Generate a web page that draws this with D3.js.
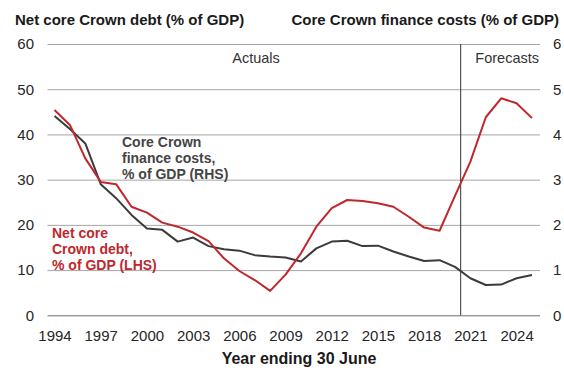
<!DOCTYPE html>
<html>
<head>
<meta charset="utf-8">
<script src="https://cdn.jsdelivr.net/npm/d3@7"></script>
<style>
    body { margin: 0; background: #fff; }
    svg text { font-family: "Liberation Sans", Arial, sans-serif; }
</style>
</head>
<body>
<svg id="chart" width="564" height="368"></svg>
<script>

// years ending 30 June
let years = d3.range(1994, 2026);

// net core Crown debt, % of GDP (LHS)
let debt = [45.4, 42.1, 34.7, 29.5, 29.0, 24.0, 22.7, 20.5, 19.6, 18.3,
            16.4, 12.6, 9.8, 7.8, 5.4, 9.0, 13.7, 19.6, 23.7, 25.5,
            25.3, 24.8, 24.0, 21.8, 19.4, 18.7, 26.4, 34.0, 43.8, 48.0,
            46.9, 43.6];

// core Crown finance costs, % of GDP (RHS)
let costs = [4.41, 4.12, 3.80, 2.90, 2.59, 2.22, 1.92, 1.89, 1.63, 1.72,
             1.53, 1.46, 1.43, 1.33, 1.30, 1.28, 1.19, 1.48, 1.63, 1.65,
             1.53, 1.54, 1.41, 1.30, 1.20, 1.22, 1.07, 0.82, 0.67, 0.68,
             0.82, 0.89];

let leftTicks = [0, 10, 20, 30, 40, 50, 60];
let rightTicks = [0, 1, 2, 3, 4, 5, 6];
let yearTicks = [1994, 1997, 2000, 2003, 2006, 2009, 2012, 2015, 2018, 2021, 2024];
let forecastStart = 2020.37;

let svg = d3.select("#chart");

let plot = {left: 47.5, right: 540, top: 44, bottom: 315.3};

let x = d3.scaleLinear()
    .domain([1994, 2025])
    .range([54.5, 532]);

let yL = d3.scaleLinear()
    .domain([0, 60])
    .range([plot.bottom, plot.top]);

let yR = d3.scaleLinear()
    .domain([0, 6])
    .range([plot.bottom, plot.top]);

// ****************************************
//             GRID + AXES
// ****************************************

let gridAxis = d3.axisLeft(yL)
    .tickValues(leftTicks)
    .tickSize(-(plot.right - plot.left))
    .tickFormat("");

svg.append("g")
    .attr("transform", `translate(${plot.left},0)`)
    .call(gridAxis)
    .call(g => g.select(".domain").remove())
    .call(g => g.selectAll("line")
        .attr("stroke", d => d === 0 ? "#6e6e6e" : "#a6a6a6")
        .attr("stroke-width", 1));

let leftAxis = svg.append("g")
    .attr("transform", `translate(34,0)`)
    .call(d3.axisLeft(yL).tickValues(leftTicks).tickSize(0).tickPadding(0));

let rightAxis = svg.append("g")
    .attr("transform", `translate(553,0)`)
    .call(d3.axisRight(yR).tickValues(rightTicks).tickFormat(d3.format("d")).tickSize(0).tickPadding(0));

let bottomAxis = svg.append("g")
    .attr("transform", `translate(0,330.5)`)
    .call(d3.axisBottom(x).tickValues(yearTicks).tickFormat(d3.format("d")).tickSize(0).tickPadding(0));

[leftAxis, rightAxis, bottomAxis].forEach(a => {
    a.select(".domain").remove();
    a.selectAll("text")
        .attr("fill", "#262626")
        .style("font-size", "15px");
});
bottomAxis.selectAll("text").attr("dy", "0.71em");

// forecast divider
svg.append("line")
    .attr("x1", x(forecastStart))
    .attr("x2", x(forecastStart))
    .attr("y1", plot.top)
    .attr("y2", plot.bottom)
    .attr("stroke", "#333")
    .attr("stroke-width", 1);

// ****************************************
//             LINES
// ****************************************

let debtLine = d3.line()
    .x((d, i) => x(years[i]))
    .y(d => yL(d));

let costLine = d3.line()
    .x((d, i) => x(years[i]))
    .y(d => yR(d));

svg.append("path")
    .datum(costs)
    .attr("fill", "none")
    .attr("stroke", "#3b3b3b")
    .attr("stroke-width", 2)
    .attr("stroke-linejoin", "round")
    .attr("d", costLine);

svg.append("path")
    .datum(debt)
    .attr("fill", "none")
    .attr("stroke", "#c0272d")
    .attr("stroke-width", 2)
    .attr("stroke-linejoin", "round")
    .attr("d", debtLine);

// ****************************************
//             TEXT
// ****************************************

svg.append("text")
    .attr("x", 15)
    .attr("y", 25)
    .attr("font-weight", "bold")
    .style("font-size", "15px")
    .attr("fill", "#1a1a1a")
    .text("Net core Crown debt (% of GDP)");

svg.append("text")
    .attr("x", 559)
    .attr("y", 25)
    .attr("text-anchor", "end")
    .attr("font-weight", "bold")
    .style("font-size", "15px")
    .attr("fill", "#1a1a1a")
    .text("Core Crown finance costs (% of GDP)");

svg.append("text")
    .attr("x", 299)
    .attr("y", 364)
    .attr("text-anchor", "middle")
    .attr("font-weight", "bold")
    .style("font-size", "16px")
    .attr("fill", "#1a1a1a")
    .text("Year ending 30 June");

svg.append("text")
    .attr("x", 256)
    .attr("y", 63)
    .attr("text-anchor", "middle")
    .style("font-size", "14.5px")
    .attr("fill", "#333")
    .text("Actuals");

svg.append("text")
    .attr("x", 539)
    .attr("y", 63)
    .attr("text-anchor", "end")
    .style("font-size", "14.5px")
    .attr("fill", "#333")
    .text("Forecasts");

let costLabel = svg.append("text")
    .attr("font-weight", "bold")
    .style("font-size", "14px")
    .attr("fill", "#444");
["Core Crown", "finance costs,", "% of GDP (RHS)"].forEach((t, i) => {
    costLabel.append("tspan").attr("x", 122).attr("y", 147 + i * 16).text(t);
});

let debtLabel = svg.append("text")
    .attr("font-weight", "bold")
    .style("font-size", "14px")
    .attr("fill", "#c0272d");
["Net core", "Crown debt,", "% of GDP (LHS)"].forEach((t, i) => {
    debtLabel.append("tspan").attr("x", 52).attr("y", 238 + i * 16).text(t);
});

</script>
</body>
</html>
